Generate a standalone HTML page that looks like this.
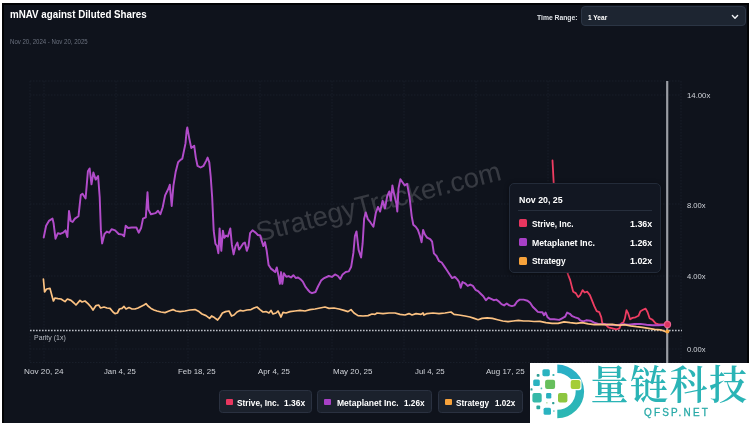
<!DOCTYPE html>
<html lang="en">
<head>
<meta charset="utf-8">
<title>mNAV against Diluted Shares</title>
<style>
html,body{margin:0;padding:0;}
body{width:750px;height:423px;overflow:hidden;background:#fff;font-family:"Liberation Sans","Noto Sans CJK SC",sans-serif;position:relative;}
.frame{position:absolute;left:2.2px;top:2.8px;width:746.4px;height:420.2px;background:#020305;}
.panel{position:absolute;left:4px;top:5.1px;width:742.8px;height:418px;background:#0f131c;}
.t{position:absolute;white-space:nowrap;transform-origin:0 50%;display:block;}
.sw{position:absolute;display:block;border-radius:1.5px;}
.sel{position:absolute;left:581px;top:6.4px;width:165.3px;height:19.5px;box-sizing:border-box;background:#1d2531;border:1px solid #2b3544;border-radius:4px;}
.chev{position:absolute;left:731px;top:13.5px;}
svg.chart{position:absolute;left:0;top:0;}
.tip{position:absolute;left:509.2px;top:183.3px;width:151.8px;height:90px;box-sizing:border-box;background:#121722;border:1px solid #232b39;border-radius:5px;box-shadow:0 1px 5px rgba(0,0,0,0.45);}
.hr{position:absolute;left:517.8px;width:134.5px;top:209.5px;height:1px;background:#262e3c;}
.lg{position:absolute;top:390px;height:23px;box-sizing:border-box;background:#1b212c;border:1px solid #2a3140;border-radius:3.5px;}
.wm{position:absolute;left:529.9px;top:363px;width:220.1px;height:60px;background:#fff;overflow:hidden;}
.cn{position:absolute;left:590.4px;top:356.3px;transform-origin:0 0;transform:scaleY(1.045);font-family:"Noto Serif CJK SC","Noto Sans CJK SC",serif;font-weight:600;font-size:38px;letter-spacing:1.5px;color:#2bb4b6;white-space:nowrap;line-height:50px;}
</style>
</head>
<body>
<div id="root" style="position:absolute;left:0;top:0;width:750px;height:423px;will-change:transform">
<div class="frame"></div>
<div class="panel"></div>
<span class="t" id="title" style="left:9.50px;top:8.42px;font-size:11.5px;line-height:13.8px;color:#fff;font-weight:bold;transform:scaleX(0.8500);">mNAV against Diluted Shares</span>
<span class="t" id="sub" style="left:9.50px;top:37.97px;font-size:7px;line-height:8.4px;color:#6a707e;font-weight:normal;transform:scaleX(0.8680);">Nov 20, 2024 - Nov 20, 2025</span>
<span class="t" id="trl" style="left:537.00px;top:13.79px;font-size:7.4px;line-height:8.9px;color:#dfe2e6;font-weight:bold;transform:scaleX(0.9159);">Time Range:</span>
<div class="sel"></div>
<span class="t" id="selv" style="left:588.00px;top:13.79px;font-size:7.4px;line-height:8.9px;color:#fff;font-weight:bold;transform:scaleX(0.8865);">1 Year</span>
<svg class="chev" width="8" height="6" viewBox="0 0 8 6"><path d="M1.4 1.5 L4 4.2 L6.6 1.5" fill="none" stroke="#f0f2f5" stroke-width="1.4" stroke-linecap="round" stroke-linejoin="round"/></svg>

<svg class="chart" width="750" height="423" viewBox="0 0 750 423" font-family="Liberation Sans, sans-serif">
<g stroke="#181e29" stroke-width="1" stroke-dasharray="1.5 1.5" fill="none">
<path d="M30 81H681M30 95H681M30 204H681M30 276H681M30 349H681M30 362.5H681"/>
<path d="M30 81V362M44 81V362M116 81V362M188 81V362M260 81V362M332 81V362M404 81V362M476 81V362M548 81V362M681 81V362"/>
</g>
<text transform="translate(258.8,241.8) rotate(-14.3)" font-size="27.4" fill="#ffffff" fill-opacity="0.17">StrategyTracker.com</text>
<line x1="30" y1="330.5" x2="682" y2="330.5" stroke="#bcbfc6" stroke-width="1.35" stroke-dasharray="1.6 1.4"/>
<line x1="667.2" y1="81" x2="667.2" y2="363" stroke="#9a9da4" stroke-width="2.2"/>
<polyline points="552.5,160.5 553.0,170.0 553.8,185.0 556.0,215.0 560.0,245.0 564.0,262.0 568.2,275.0 570.2,280.1 572.2,288.1 573.2,291.7 575.8,293.1 578.2,297.1 580.2,295.1 582.6,290.1 584.6,292.5 587.3,291.7 589.9,295.1 591.9,300.2 594.3,306.2 596.7,311.2 599.3,312.2 601.3,317.3 602.3,323.3 605.4,324.3 608.4,327.3 612.4,328.3 616.4,329.3 619.4,328.3 621.4,323.3 623.5,322.3 624.9,318.3 626.5,310.2 628.1,313.2 630.1,319.3 632.5,317.9 635.5,317.3 638.5,315.8 640.5,311.2 643.0,309.8 645.6,308.6 647.6,312.2 649.6,318.3 652.6,319.9 655.6,323.3 658.6,324.3 662.7,324.3 667.1,323.9" fill="none" stroke="#ee3d62" stroke-width="1.8" stroke-linejoin="round" stroke-linecap="round"/>
<polyline points="43.7,237.5 46.1,225.7 48.9,220.9 52.5,218.6 53.6,223.3 55.5,238.7 57.9,233.2 60.3,233.9 63.1,232.7 65.5,230.4 67.4,237.0 69.0,211.0 70.7,221.0 72.6,222.0 74.9,218.6 78.5,216.2 80.8,195.0 82.5,193.7 85.6,198.5 87.9,171.3 89.6,168.4 91.5,184.3 93.4,172.5 95.7,179.6 98.1,176.0 99.7,197.3 100.9,230.4 102.1,243.4 104.5,234.0 106.8,231.6 109.2,232.7 111.6,229.2 115.1,230.4 118.7,234.0 122.2,234.6 124.1,236.3 125.7,225.7 128.1,228.0 131.7,227.5 136.4,227.5 138.7,232.7 141.1,228.0 143.0,218.6 145.8,217.4 147.5,192.2 148.5,209.6 150.9,214.3 155.6,213.1 158.0,210.7 160.4,214.3 162.7,207.2 165.1,195.4 168.6,188.3 169.8,184.7 171.7,206.0 173.4,185.9 175.7,171.7 178.1,162.3 180.5,159.9 182.3,158.7 185.5,143.4 186.6,131.0 187.3,127.4 189.3,138.6 191.3,148.1 194.2,145.7 195.8,157.6 197.5,165.8 200.6,167.5 203.6,165.8 206.0,161.1 207.6,157.6 209.3,162.3 210.7,176.5 212.2,198.0 213.7,230.7 215.4,243.7 217.0,246.0 218.4,253.2 219.6,228.4 221.3,250.8 222.9,230.7 224.3,237.8 226.0,235.5 227.9,236.6 230.3,228.4 231.9,244.9 233.6,254.4 235.5,246.1 237.4,242.6 239.0,249.6 240.7,247.3 243.0,243.7 244.9,242.6 246.8,250.8 248.5,246.1 250.1,233.1 252.5,230.3 255.6,232.6 257.9,235.0 260.3,235.5 261.9,241.4 263.4,246.1 265.0,242.1 266.7,250.8 268.6,265.0 270.9,268.6 273.3,270.4 275.2,272.1 276.8,267.4 278.5,275.7 279.9,283.9 281.1,272.1 282.3,283.9 283.9,273.3 286.3,276.8 288.7,276.1 291.0,277.5 293.4,275.2 295.7,278.0 298.1,277.5 300.5,279.2 302.8,281.6 305.2,286.3 307.6,289.5 309.9,292.2 312.0,293.2 315.5,292.0 318.0,286.5 321.1,280.6 324.2,278.1 328.8,276.0 331.9,276.9 335.0,274.4 338.0,276.0 340.2,279.0 342.6,274.4 345.7,272.0 348.8,271.4 351.2,266.7 353.4,252.9 354.9,236.0 356.5,231.4 358.6,249.9 361.1,257.5 362.6,243.7 364.1,219.1 365.7,212.4 367.8,219.1 370.3,222.2 373.4,226.8 375.8,213.0 378.0,206.9 380.1,211.5 382.6,200.7 385.0,208.4 387.2,196.1 389.3,191.5 390.9,200.7 392.4,185.4 394.2,194.6 396.4,203.8 397.3,211.5 398.5,188.4 400.4,179.2 402.5,182.3 404.7,185.4 407.1,183.8 409.6,197.6 411.7,216.1 413.3,224.7 415.7,226.8 417.9,229.9 420.0,236.0 421.6,242.2 423.1,229.9 424.9,234.5 427.1,237.6 430.2,239.1 432.1,241.7 433.9,253.4 436.5,256.0 439.1,261.2 441.7,262.5 444.3,266.4 446.9,270.3 449.5,274.2 452.1,278.1 454.7,276.8 457.3,279.4 459.1,282.0 460.7,287.7 462.5,282.0 465.1,283.3 467.7,285.9 470.3,284.6 472.9,285.9 475.5,289.8 478.1,291.1 480.7,293.7 483.3,296.3 485.9,300.2 488.5,297.6 491.1,298.9 493.7,300.2 496.3,299.6 498.9,301.5 501.5,304.1 504.1,305.4 506.7,303.5 509.3,305.4 511.9,306.1 514.5,305.4 517.1,301.5 519.7,299.6 523.6,299.6 527.5,300.7 530.1,302.8 532.7,306.7 535.3,309.3 537.8,311.9 540.4,312.2 542.4,312.2 544.0,315.2 545.6,312.6 547.6,317.3 550.1,319.3 554.1,319.3 559.1,319.9 562.1,318.3 565.1,316.7 567.1,312.6 569.8,313.8 572.2,316.2 575.2,317.3 578.2,318.3 580.2,320.3 583.2,321.3 586.2,320.3 590.3,320.7 594.3,322.7 598.3,323.9 604.3,324.3 610.4,324.7 616.4,325.3 622.4,324.3 628.5,324.7 634.5,323.9 640.5,323.9 646.6,324.7 652.6,325.3 658.6,325.3 667.1,324.7" fill="none" stroke="#b24cca" stroke-width="1.95" stroke-linejoin="round" stroke-linecap="round"/>
<polyline points="43.4,279.0 44.6,292.0 46.6,289.0 50.0,288.4 52.0,296.0 53.4,301.0 55.0,298.0 58.0,298.6 61.0,299.0 65.0,301.6 67.4,299.0 71.0,300.4 74.0,303.0 76.0,305.0 80.0,300.4 82.0,302.0 85.0,301.0 88.0,303.6 91.0,307.0 93.0,310.0 96.0,305.6 98.6,305.0 100.6,308.0 104.0,307.0 107.0,308.0 110.0,308.4 113.0,312.0 115.0,313.6 117.4,313.0 119.4,309.0 122.0,308.4 124.0,306.4 126.0,309.0 129.0,307.6 132.0,309.0 135.0,309.0 138.0,308.0 141.0,306.4 144.0,305.0 146.0,303.6 148.0,306.0 151.0,308.4 154.0,310.0 157.0,311.0 161.0,312.0 165.0,312.6 169.0,311.0 173.0,309.6 176.0,311.0 180.0,311.6 185.0,311.0 190.0,310.0 195.0,309.6 199.0,311.6 202.0,314.0 206.0,315.6 209.6,318.4 211.6,316.0 214.4,317.6 217.6,320.0 220.0,317.0 222.4,313.0 225.6,311.6 229.0,311.0 231.6,316.0 234.0,315.0 237.0,312.0 240.0,310.4 243.0,311.0 247.0,310.0 251.0,309.6 254.0,308.0 257.0,307.0 260.0,309.6 263.0,312.0 266.0,311.6 269.0,313.0 271.0,310.4 273.0,314.0 276.0,313.0 278.0,311.0 280.0,315.0 281.0,317.0 283.0,312.4 286.0,313.0 290.0,311.6 295.0,311.0 300.0,310.4 305.0,311.0 310.0,309.6 315.0,309.0 320.0,308.0 325.0,307.0 329.0,308.4 334.0,308.0 339.0,309.0 344.0,310.4 348.0,311.6 351.0,309.6 354.0,313.0 358.0,315.6 363.0,316.0 368.0,315.6 372.0,314.0 375.0,314.4 377.0,313.0 383.0,313.6 389.0,313.0 395.0,313.0 400.0,314.4 405.0,315.0 409.0,313.6 412.0,315.0 416.0,313.6 421.0,314.4 423.0,313.0 424.0,315.0 427.0,313.6 433.0,313.0 439.0,313.6 445.0,313.0 451.0,312.0 454.0,314.4 459.0,315.0 465.0,316.0 470.0,317.0 474.2,318.4 478.1,319.7 482.0,318.4 487.2,317.8 492.4,318.4 497.6,319.7 502.8,321.0 508.0,321.7 513.2,321.0 518.4,320.4 523.6,321.0 528.8,321.0 534.0,321.5 540.0,321.3 546.0,322.7 552.1,323.3 558.1,323.3 564.1,321.9 570.2,322.7 576.2,323.3 582.2,322.7 588.3,323.9 594.3,324.7 600.3,324.3 606.4,324.7 612.4,324.3 618.4,325.3 624.5,324.7 630.5,325.9 636.5,326.7 642.5,327.3 648.6,328.3 654.6,329.3 660.7,329.9 664.7,331.3 667.1,331.8" fill="none" stroke="#fcc282" stroke-width="1.7" stroke-linejoin="round" stroke-linecap="round"/>
<circle cx="667.4" cy="331.6" r="2" fill="#f8a640"/>
<circle cx="667.5" cy="324.5" r="3.1" fill="#dc3460" stroke="#ec5f8e" stroke-width="1.1"/>
</svg>
<span class="t" id="par" style="left:33.50px;top:333.59px;font-size:7.1px;line-height:8.5px;color:#b8bcc4;font-weight:normal;transform:scaleX(0.9806);">Parity (1x)</span>
<span class="t" id="x0" style="left:23.60px;top:367.03px;font-size:8px;line-height:9.6px;color:#d0d3d9;font-weight:normal;transform:scaleX(1.0232);">Nov 20, 24</span><span class="t" id="x1" style="left:104.40px;top:367.03px;font-size:8px;line-height:9.6px;color:#d0d3d9;font-weight:normal;transform:scaleX(0.9659);">Jan 4, 25</span><span class="t" id="x2" style="left:178.30px;top:367.03px;font-size:8px;line-height:9.6px;color:#d0d3d9;font-weight:normal;transform:scaleX(0.9830);">Feb 18, 25</span><span class="t" id="x3" style="left:258.30px;top:367.03px;font-size:8px;line-height:9.6px;color:#d0d3d9;font-weight:normal;transform:scaleX(0.9824);">Apr 4, 25</span><span class="t" id="x4" style="left:333.00px;top:367.03px;font-size:8px;line-height:9.6px;color:#d0d3d9;font-weight:normal;transform:scaleX(0.9980);">May 20, 25</span><span class="t" id="x5" style="left:414.80px;top:367.03px;font-size:8px;line-height:9.6px;color:#d0d3d9;font-weight:normal;transform:scaleX(0.9818);">Jul 4, 25</span><span class="t" id="x6" style="left:485.60px;top:367.03px;font-size:8px;line-height:9.6px;color:#d0d3d9;font-weight:normal;transform:scaleX(0.9974);">Aug 17, 25</span>
<span class="t" id="y0" style="left:687.20px;top:91.03px;font-size:8px;line-height:9.6px;color:#d0d3d9;font-weight:normal;transform:scaleX(0.9695);">14.00x</span><span class="t" id="y1" style="left:687.20px;top:200.63px;font-size:8px;line-height:9.6px;color:#d0d3d9;font-weight:normal;transform:scaleX(0.9501);">8.00x</span><span class="t" id="y2" style="left:687.20px;top:272.13px;font-size:8px;line-height:9.6px;color:#d0d3d9;font-weight:normal;transform:scaleX(0.9501);">4.00x</span><span class="t" id="y3" style="left:687.20px;top:345.03px;font-size:8px;line-height:9.6px;color:#d0d3d9;font-weight:normal;transform:scaleX(0.9501);">0.00x</span>

<div class="tip"></div>
<span class="t" id="tipd" style="left:518.50px;top:193.91px;font-size:9.5px;line-height:11.4px;color:#fff;font-weight:bold;transform:scaleX(0.9297);">Nov 20, 25</span>
<div class="hr"></div>
<i class="sw" style="left:518.7px;top:219.3px;width:7.9px;height:8px;background:#e8365f"></i><span class="t" id="tn0" style="left:532.20px;top:217.72px;font-size:9.6px;line-height:11.5px;color:#fff;font-weight:bold;transform:scaleX(0.8551);">Strive, Inc.</span><span class="t" id="tv0" style="left:629.50px;top:217.72px;font-size:9.6px;line-height:11.5px;color:#fff;font-weight:bold;transform:scaleX(0.9244);">1.36x</span>
<i class="sw" style="left:518.7px;top:238.1px;width:7.9px;height:8px;background:#a840c6"></i><span class="t" id="tn1" style="left:532.20px;top:236.52px;font-size:9.6px;line-height:11.5px;color:#fff;font-weight:bold;transform:scaleX(0.9075);">Metaplanet Inc.</span><span class="t" id="tv1" style="left:629.50px;top:236.52px;font-size:9.6px;line-height:11.5px;color:#fff;font-weight:bold;transform:scaleX(0.9244);">1.26x</span>
<i class="sw" style="left:518.7px;top:256.9px;width:7.9px;height:8px;background:#f7a23b"></i><span class="t" id="tn2" style="left:532.20px;top:255.32px;font-size:9.6px;line-height:11.5px;color:#fff;font-weight:bold;transform:scaleX(0.8778);">Strategy</span><span class="t" id="tv2" style="left:629.50px;top:255.32px;font-size:9.6px;line-height:11.5px;color:#fff;font-weight:bold;transform:scaleX(0.9244);">1.02x</span>

<div class="lg" style="left:219px;width:93px"></div><i class="sw" style="left:226.3px;top:398.5px;width:6.9px;height:6.9px;background:#e8365f;border-radius:1px"></i><span class="t" id="ln0" style="left:237.10px;top:396.79px;font-size:9.4px;line-height:11.3px;color:#fff;font-weight:bold;transform:scaleX(0.8857);">Strive, Inc.</span><span class="t" id="lv0" style="left:283.90px;top:396.79px;font-size:9.4px;line-height:11.3px;color:#fff;font-weight:bold;transform:scaleX(0.8991);">1.36x</span>
<div class="lg" style="left:316.7px;width:115.7px"></div><i class="sw" style="left:324.0px;top:398.5px;width:6.9px;height:6.9px;background:#a840c6;border-radius:1px"></i><span class="t" id="ln1" style="left:336.50px;top:396.79px;font-size:9.4px;line-height:11.3px;color:#fff;font-weight:bold;transform:scaleX(0.9109);">Metaplanet Inc.</span><span class="t" id="lv1" style="left:404.00px;top:396.79px;font-size:9.4px;line-height:11.3px;color:#fff;font-weight:bold;transform:scaleX(0.8778);">1.26x</span>
<div class="lg" style="left:437.6px;width:85.6px"></div><i class="sw" style="left:444.9px;top:398.5px;width:6.9px;height:6.9px;background:#f7a23b;border-radius:1px"></i><span class="t" id="ln2" style="left:456.30px;top:396.79px;font-size:9.4px;line-height:11.3px;color:#fff;font-weight:bold;transform:scaleX(0.8823);">Strategy</span><span class="t" id="lv2" style="left:495.20px;top:396.79px;font-size:9.4px;line-height:11.3px;color:#fff;font-weight:bold;transform:scaleX(0.8607);">1.02x</span>

<div class="wm">
<svg width="60" height="60" viewBox="530.5 363 60 60" style="position:absolute;left:0.6px;top:0">
<defs><linearGradient id="rg" x1="0" y1="0" x2="0" y2="1"><stop offset="0" stop-color="#2aafc9"/><stop offset="1" stop-color="#2cb8b2"/></linearGradient></defs>
<path d="M557.8 364.6 A26.8 26.8 0 0 1 557.8 418.2 L557.8 409.8 A18.4 18.4 0 0 0 557.8 373 Z" fill="url(#rg)"/>
<rect x="570.1" y="379" width="11.9" height="11.2" rx="2.6" fill="#fff"/>
<rect x="557.4" y="392" width="11.6" height="11.5" rx="2.6" fill="#fff"/>
<rect x="542.9" y="369.2" width="7.4" height="7" rx="1.6" fill="#2ab3c0"/>
<rect x="537.2" y="374.1" width="2.8" height="2.7" rx="0.8" fill="#2f9f96"/>
<rect x="553" y="374.1" width="1.9" height="1.9" rx="0.5" fill="#3bb6b0"/>
<rect x="533.7" y="379.4" width="6.6" height="6.6" rx="1.5" fill="#2ab3c0"/>
<rect x="545.6" y="379.7" width="10" height="9.4" rx="2" fill="#66bf5c"/>
<rect x="571.2" y="380.1" width="9.7" height="9" rx="2" fill="#a5cd39"/>
<rect x="531" y="388.3" width="2" height="2.2" rx="0.6" fill="#2f9f96"/>
<rect x="541.1" y="387.6" width="1.6" height="1.7" rx="0.5" fill="#4fbfae"/>
<rect x="532.9" y="393.1" width="9.3" height="9.3" rx="2" fill="#36b9a8"/>
<rect x="546.6" y="393.1" width="5.2" height="5.3" rx="1.2" fill="#2ab0bf"/>
<rect x="558.5" y="393.1" width="9.4" height="9.3" rx="2" fill="#8dc63f"/>
<rect x="552.6" y="402" width="2.3" height="2.3" rx="0.7" fill="#2f9f96"/>
<rect x="546.6" y="402" width="1.5" height="1.5" rx="0.5" fill="#b7e0a8"/>
<rect x="536.9" y="405.4" width="3.8" height="3.8" rx="1" fill="#2aa89f"/>
<rect x="544.1" y="407.7" width="7.4" height="7.1" rx="1.6" fill="#2ab3c0"/>
<rect x="553.6" y="410.3" width="1.5" height="1.5" rx="0.5" fill="#5cc4c0"/>
</svg>
</div>
<div class="cn">量链科技</div>
<span class="t" id="en" style="left:644.40px;top:406.73px;font-size:10px;line-height:12.0px;color:#2aaaa8;font-weight:normal;transform:scaleX(0.9950);letter-spacing:2.2px;-webkit-text-stroke:0.3px #2aaaa8;">QFSP.NET</span>
</div>
</body>
</html>
